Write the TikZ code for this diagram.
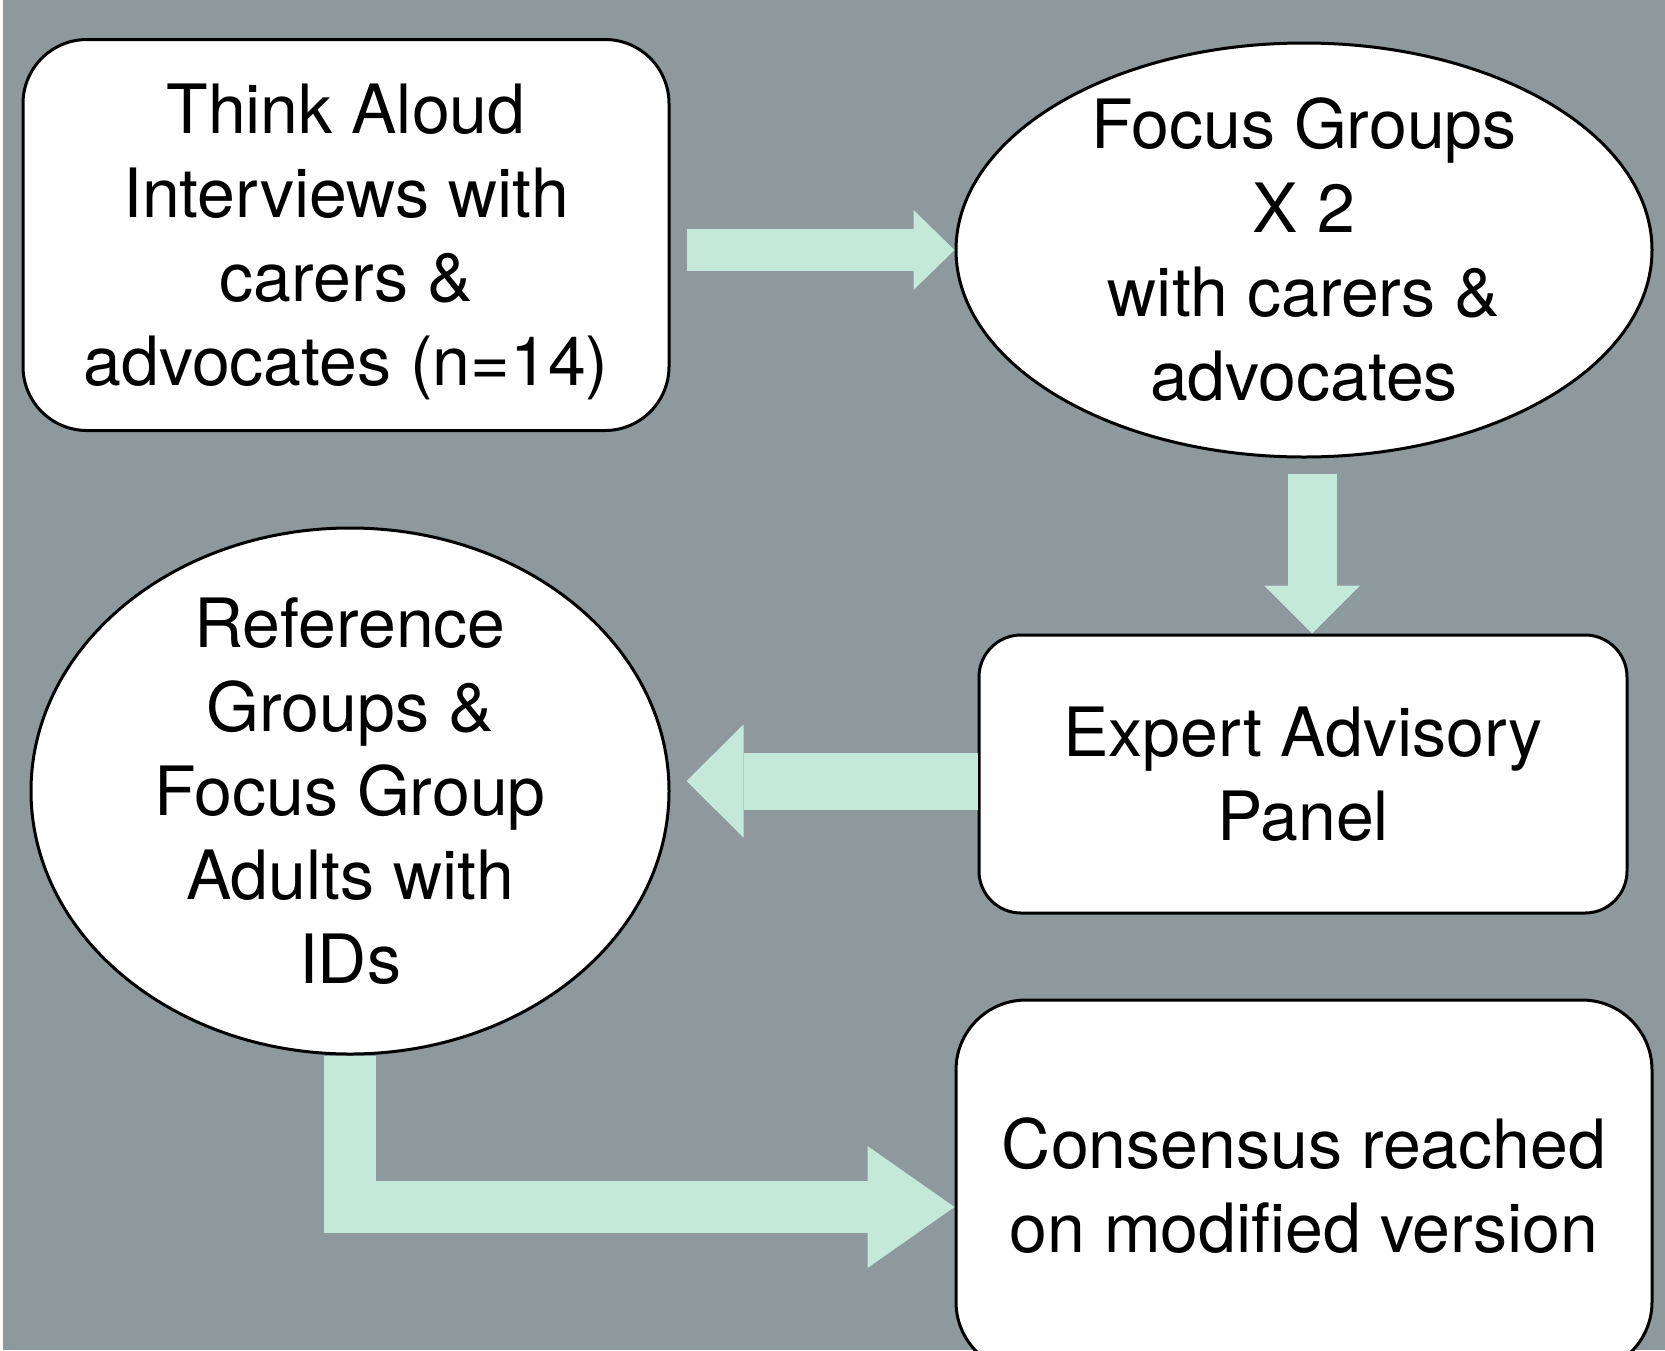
\documentclass[tikz,border=0pt]{standalone}
\usepackage{fontspec}
\setmainfont{TeX Gyre Heros}
\usetikzlibrary{arrows.meta, shapes.geometric}
\definecolor{panelgrey}{RGB}{142,153,158}
\definecolor{flowgreen}{RGB}{196,233,218}

\begin{document}
\begin{tikzpicture}
  [x=1pt, y=-1pt,
   stage/.style={draw=black, line width=3pt, fill=white, align=center,
     font=\fontsize{68}{84}\selectfont},
   box/.style={stage, rectangle, inner sep=0pt, rounded corners=#1},
   oval/.style={stage, ellipse, inner sep=-50pt},
   flow/.style={draw=flowgreen, line cap=butt, line join=miter}]
  \clip (0,0) rectangle (1665,1350);
  \fill[white] (0,0) rectangle (3,1350);
  \fill[panelgrey] (3,0) rectangle (1665,1350);

  \node (think) at (346,235) [box=64pt, minimum width=646pt, minimum height=391pt]
    {Think Aloud\\Interviews with\\carers \&\\advocates \smash{(n=14)}};
  \node (focus) at (1304,250) [oval, minimum width=696pt, minimum height=414pt]
    {Focus Groups\\X 2\\with carers \&\\advocates};
  \node (expert) at (1303,774) [box=42pt, minimum width=648pt, minimum height=278pt]
    {Expert Advisory\\Panel};
  \node (ref) at (350,791) [oval, minimum width=638pt, minimum height=526pt]
    {Reference\\Groups \&\\Focus Group\\Adults with\\IDs};
  \node (consensus) at (1304,1186) [box=70pt, minimum width=696pt, minimum height=372pt]
    {Consensus reached\\on modified version};

  % block arrows between the stages
  \coordinate (a1) at ([xshift=16pt]think.east);
  \coordinate (a2) at ([xshift=8pt, yshift=-15pt]focus.south);
  \draw [flow, line width=42pt, -{Triangle[length=41pt, width=80pt, line width=0pt]}]
    (a1 |- focus.west) -- (focus.west);
  \draw [flow, line width=49pt, -{Triangle[length=48pt, width=96pt, line width=0pt]}]
    (a2) -- (a2 |- expert.north);
  \draw [flow, line width=57pt, -{Triangle[length=57pt, width=113pt, line width=0pt]}]
    ([yshift=-7pt]expert.west) -- ([xshift=16pt, yshift=-7pt]ref.east |- expert.west);
  \draw [flow, line width=52pt, -{Triangle[length=87pt, width=122pt, line width=0pt]}]
    (ref.south) |- ([yshift=-21pt]consensus.west);
\end{tikzpicture}
\end{document}
